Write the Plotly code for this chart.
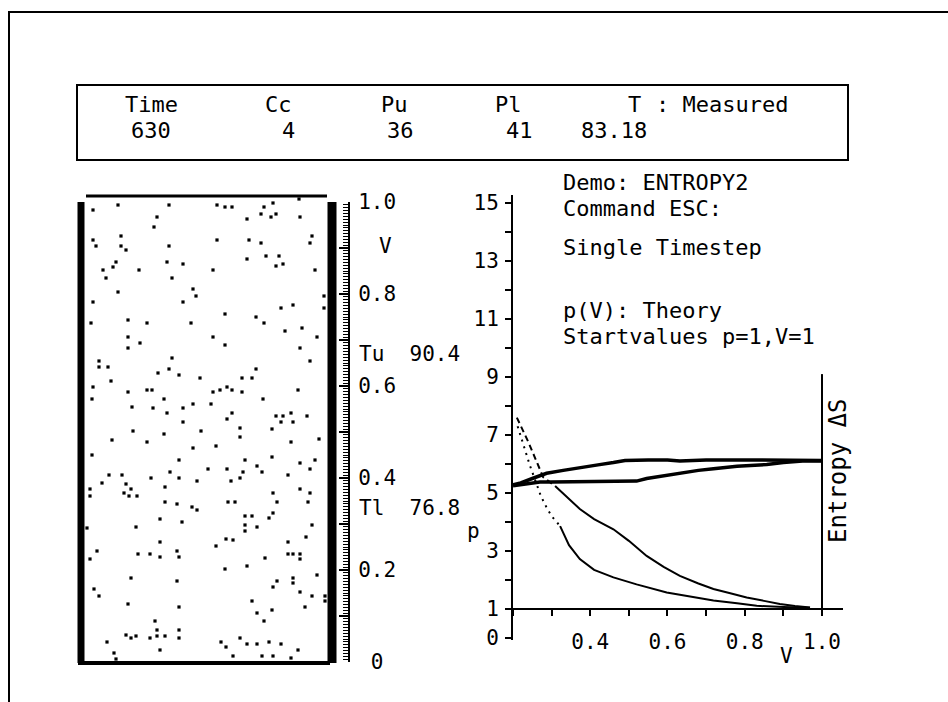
import plotly.graph_objects as go

W, H = 948, 702
FONT = "DejaVu Sans Mono"

# ---------------- data ----------------
HEADER_NAMES = ["Time", "Cc", "Pu", "Pl", "T"]
HEADER_VALUES = ["630", "4", "36", "41", "83.18"]
HEADER_MODE = ": Measured"

INFO_LINES = ["Demo: ENTROPY2", "Command ESC:", "Single Timestep",
              "p(V): Theory", "Startvalues p=1,V=1"]

TEMP_NAMES = ["Tu", "Tl"]
TEMP_VALUES = [90.4, 76.8]

# particle positions in box units (x: 0..244 across, y: height above floor)
PART_X = [9, 34, 85, 133, 141, 148, 180, 189, 215, 177, 187, 192, 216, 163, 73, 70, 9, 37, 12, 37,
          42, 85, 133, 165, 177, 182, 195, 192, 199, 163, 228, 226, 32, 29, 19, 55, 83, 99, 129, 22,
          88, 231, 34, 109, 112, 99, 9, 240, 240, 197, 209, 44, 7, 63, 107, 141, 172, 180, 218, 201,
          44, 56, 44, 129, 141, 216, 233, 15, 15, 24, 88, 74, 85, 95, 27, 116, 158, 168, 172, 226,
          9, 8, 44, 63, 68, 80, 129, 136, 143, 148, 158, 214, 179, 48, 69, 83, 99, 109, 127, 148,
          143, 192, 199, 207, 197, 209, 223, 99, 49, 80, 117, 156, 156, 188, 28, 63, 109, 132, 207, 235,
          8, 95, 161, 188, 216, 231, 173, 124, 143, 159, 178, 226, 86, 25, 38, 67, 95, 113, 147, 156,
          204, 18, 42, 81, 6, 47, 6, 40, 45, 53, 216, 189, 226, 81, 93, 144, 151, 193, 224, 108,
          113, 161, 168, 189, 185, 76, 98, 161, 161, 173, 228, 52, 3, 222, 76, 142, 149, 204, 132, 13,
          93, 54, 66, 76, 95, 6, 204, 209, 216, 216, 181, 141, 163, 47, 93, 193, 209, 209, 189, 233,
          10, 15, 216, 228, 241, 241, 44, 95, 168, 173, 188, 221, 180, 71, 73, 42, 47, 52, 66, 73,
          81, 95, 95, 156, 137, 163, 173, 185, 197, 23, 76, 142, 214, 30, 32, 149, 178, 189, 207]
PART_Y = [452, 457, 457, 457, 455, 455, 455, 459, 463, 448, 445, 448, 445, 443, 445, 435, 422, 426, 416, 416,
          412, 416, 422, 422, 419, 406, 406, 396, 398, 403, 426, 419, 400, 395, 392, 392, 400, 398, 392, 384,
          384, 392, 370, 373, 366, 360, 360, 366, 354, 354, 357, 342, 339, 339, 339, 348, 345, 339, 334, 331,
          325, 319, 314, 325, 317, 314, 325, 301, 295, 295, 304, 289, 293, 287, 281, 284, 284, 284, 293, 301,
          275, 263, 270, 272, 272, 263, 270, 272, 275, 272, 270, 272, 263, 255, 254, 249, 254, 258, 258, 249,
          243, 246, 246, 249, 240, 240, 246, 240, 231, 228, 231, 234, 225, 233, 222, 220, 214, 216, 220, 223,
          207, 202, 202, 205, 199, 202, 196, 193, 193, 190, 190, 193, 190, 187, 187, 184, 184, 181, 181, 184,
          187, 179, 178, 175, 173, 173, 166, 169, 166, 166, 173, 169, 169, 160, 158, 160, 160, 160, 160, 155,
          152, 146, 146, 149, 144, 143, 140, 137, 131, 135, 137, 135, 134, 125, 120, 123, 122, 120, 116, 111,
          111, 108, 108, 105, 105, 103, 108, 108, 108, 103, 104, 93, 96, 84, 81, 81, 84, 79, 75, 87,
          73, 66, 70, 66, 66, 61, 58, 55, 61, 49, 52, 55, 41, 41, 32, 27, 24, 26, 24, 26,
          26, 32, 24, 24, 20, 18, 18, 20, 18, 20, 12, 15, 12, 9, 3, 6, 6, 6, 4]

# p(V) curves
V_UPPER = [0.21, 0.24, 0.278, 0.309, 0.34, 0.373, 0.41, 0.46, 0.50, 0.546, 0.59, 0.632, 0.68,
           0.719, 0.76, 0.805, 0.85, 0.891, 0.93, 0.969]
P_UPPER = [7.6, 6.75, 5.55, 5.24, 4.85, 4.45, 4.1, 3.75, 3.35, 2.83, 2.45, 2.14, 1.88,
           1.69, 1.55, 1.40, 1.28, 1.17, 1.10, 1.05]
V_LOWER = [0.212, 0.231, 0.244, 0.261, 0.272, 0.287, 0.30, 0.322, 0.345, 0.373, 0.41, 0.46, 0.52,
           0.598, 0.66, 0.719, 0.78, 0.831, 0.90, 0.969]
P_LOWER = [7.3, 6.5, 5.94, 5.31, 4.9, 4.5, 4.2, 3.86, 3.2, 2.72, 2.35, 2.09, 1.85,
           1.57, 1.42, 1.29, 1.2, 1.11, 1.07, 1.04]
UPPER_DASH_END = 0.309
LOWER_DOT_END = 0.322

# entropy curves (drawn on p scale)
V_ENT_A = [0.2, 0.22, 0.25, 0.287, 0.33, 0.373, 0.42, 0.46, 0.49, 0.55, 0.6, 0.632, 0.7, 0.8, 0.9, 1.0]
S_ENT_A = [5.28, 5.35, 5.5, 5.68, 5.78, 5.88, 5.97, 6.05, 6.12, 6.14, 6.14, 6.1, 6.14, 6.14, 6.14, 6.12]
V_ENT_B = [0.2, 0.23, 0.27, 0.3, 0.35, 0.4, 0.45, 0.52, 0.546, 0.59, 0.632, 0.68, 0.719, 0.78,
           0.857, 0.9, 0.95, 1.0]
S_ENT_B = [5.25, 5.3, 5.38, 5.38, 5.38, 5.38, 5.39, 5.41, 5.5, 5.6, 5.70, 5.78, 5.84, 5.92,
           5.98, 6.05, 6.1, 6.1]

P_TICKS = list(range(0, 16))
P_LABELED = [0, 1, 3, 5, 7, 9, 11, 13, 15]
V_TICKS = [0.2, 0.3, 0.4, 0.5, 0.6, 0.7, 0.8, 0.9, 1.0]
V_LABELED = [0.4, 0.6, 0.8, 1.0]
RULER_TICKS = [0.0, 0.1, 0.2, 0.3, 0.4, 0.5, 0.6, 0.7, 0.8, 0.9, 1.0]
RULER_LABELED = [0.0, 0.2, 0.4, 0.6, 0.8, 1.0]
ENTROPY_TOP = 9.1


def fx(px):
    return px / W


def fy(py):
    return 1 - py / H


def fmt(v):
    return "\u00a00" if v == 0 else f"{v:.1f}"


fig = go.Figure()

# ---------- right panel: p(V) ----------
ud = [(v, p) for v, p in zip(V_UPPER, P_UPPER) if v <= UPPER_DASH_END]
us = [(v, p) for v, p in zip(V_UPPER, P_UPPER) if v >= UPPER_DASH_END]
ld = [(v, p) for v, p in zip(V_LOWER, P_LOWER) if v <= LOWER_DOT_END]
ls = [(v, p) for v, p in zip(V_LOWER, P_LOWER) if v >= LOWER_DOT_END]

for seg, dash in [(ud, "6px,4px"), (us, "solid"), (ld, "2px,5px"), (ls, "solid")]:
    fig.add_trace(go.Scatter(x=[a for a, b in seg], y=[b for a, b in seg], mode="lines",
                             line=dict(color="black", width=2, dash=dash),
                             xaxis="x", yaxis="y", hoverinfo="skip"))

for vx, sy in [(V_ENT_A, S_ENT_A), (V_ENT_B, S_ENT_B)]:
    fig.add_trace(go.Scatter(x=vx, y=sy, mode="lines", line=dict(color="black", width=3.5),
                             xaxis="x", yaxis="y", hoverinfo="skip"))

# ---------- left panel: particles ----------
fig.add_trace(go.Scatter(x=PART_X, y=PART_Y, mode="markers",
                         marker=dict(symbol="square", size=3.2, color="black", line=dict(width=0)),
                         xaxis="x2", yaxis="y2", hoverinfo="skip"))
# dummy trace for ruler axis
fig.add_trace(go.Scatter(x=[None], y=[None], xaxis="x2", yaxis="y3", hoverinfo="skip"))

axis_common = dict(showgrid=False, zeroline=False, showline=True, linecolor="black",
                   linewidth=2, tickcolor="black", tickwidth=2, fixedrange=True,
                   automargin=False,
                   tickfont=dict(family=FONT, size=21, color="black"))

fig.update_layout(
    width=W, height=H, autosize=False,
    margin=dict(l=0, r=0, t=0, b=0, pad=0, autoexpand=False),
    paper_bgcolor="white", plot_bgcolor="rgba(0,0,0,0)", showlegend=False,
    font=dict(family=FONT, size=22, color="black"),
    xaxis=dict(domain=[fx(513), fx(843)], range=[0.2, 1.0544], anchor="free",
               position=fy(609), ticks="outside", ticklen=6, tickmode="array",
               tickvals=V_TICKS, ticktext=[fmt(v) if v in V_LABELED else "" for v in V_TICKS],
               ticklabelstandoff=8, **axis_common),
    yaxis=dict(domain=[fy(640), fy(195)], range=[-0.069, 15.276], anchor="x",
               ticks="outside", ticklen=6, tickmode="array", tickvals=P_TICKS,
               ticktext=[str(p) if p in P_LABELED else "" for p in P_TICKS],
               ticklabelstandoff=2, **axis_common),
    xaxis2=dict(domain=[fx(70), fx(360)], range=[-14, 276], visible=False, fixedrange=True),
    yaxis2=dict(domain=[fy(680), fy(190)], range=[-18, 472], anchor="x2", visible=False,
                fixedrange=True),
    yaxis3=dict(domain=[fy(662), fy(202)], range=[0, 1], anchor="free", position=fx(349),
                side="right", ticks="inside", ticklen=9, tickmode="array", tickvals=RULER_TICKS,
                ticktext=[fmt(v) if v in RULER_LABELED else "" for v in RULER_TICKS],
                ticklabelstandoff=4,
                minor=dict(dtick=1 / 160, tick0=0, ticks="inside", ticklen=5, tickwidth=1,
                           tickcolor="black", showgrid=False),
                **axis_common),
)

shapes = []
# outer frame
shapes.append(dict(type="line", xref="paper", yref="paper", x0=fx(8), x1=1.0, y0=fy(12), y1=fy(12),
                   line=dict(color="black", width=2)))
shapes.append(dict(type="line", xref="paper", yref="paper", x0=fx(9), x1=fx(9), y0=fy(12), y1=0,
                   line=dict(color="black", width=2)))
# header box
shapes.append(dict(type="rect", xref="paper", yref="paper", x0=fx(77), x1=fx(848), y0=fy(160),
                   y1=fy(85), line=dict(color="black", width=2)))
# particle box walls (box units)
shapes.append(dict(type="line", xref="x2", yref="y2", x0=-3, x1=-3, y0=-1, y1=460,
                   line=dict(color="black", width=7)))
shapes.append(dict(type="line", xref="x2", yref="y2", x0=248, x1=248, y0=-1, y1=460,
                   line=dict(color="black", width=9)))
shapes.append(dict(type="line", xref="x2", yref="y2", x0=2, x1=243, y0=466, y1=466,
                   line=dict(color="black", width=3)))
shapes.append(dict(type="line", xref="x2", yref="y2", x0=-6, x1=246, y0=-1, y1=-1,
                   line=dict(color="black", width=4)))
# entropy axis
shapes.append(dict(type="line", xref="x", yref="y", x0=1.0, x1=1.0, y0=1, y1=ENTROPY_TOP,
                   line=dict(color="black", width=2)))
fig.update_layout(shapes=shapes)

ann = []


def add_text(text, px, py, xanchor="center", size=22, angle=0):
    ann.append(dict(text=text, xref="paper", yref="paper", x=fx(px), y=fy(py), xanchor=xanchor,
                    yanchor="middle", showarrow=False, textangle=angle, borderpad=0,
                    font=dict(family=FONT, size=size, color="black")))


NAME_X = [151, 278, 394, 508, 634]
VALUE_X = [151, 288, 400, 519, 614]
for name, x in zip(HEADER_NAMES, NAME_X):
    add_text(name, x, 104)
add_text(HEADER_MODE, 655, 104, xanchor="left")
for val, x in zip(HEADER_VALUES, VALUE_X):
    add_text(val, x, 131)

INFO_Y = [182, 208, 248, 310, 336]
for line, y in zip(INFO_LINES, INFO_Y):
    add_text(line, 562, y, xanchor="left")

TEMP_Y = [354, 508]
for name, val, y in zip(TEMP_NAMES, TEMP_VALUES, TEMP_Y):
    add_text(f"{name}\u00a0\u00a0{val:.1f}", 358, y, xanchor="left", size=21)

add_text("V", 385, 246, size=21)
add_text("p", 473, 531, size=21)
add_text("V", 786, 656, size=21)
add_text("Entropy \u0394S", 838, 471, size=24, angle=-90)
fig.update_layout(annotations=ann)

fig.write_html("out.html", config={"displayModeBar": False},
               post_script="document.body.style.margin='0';")
